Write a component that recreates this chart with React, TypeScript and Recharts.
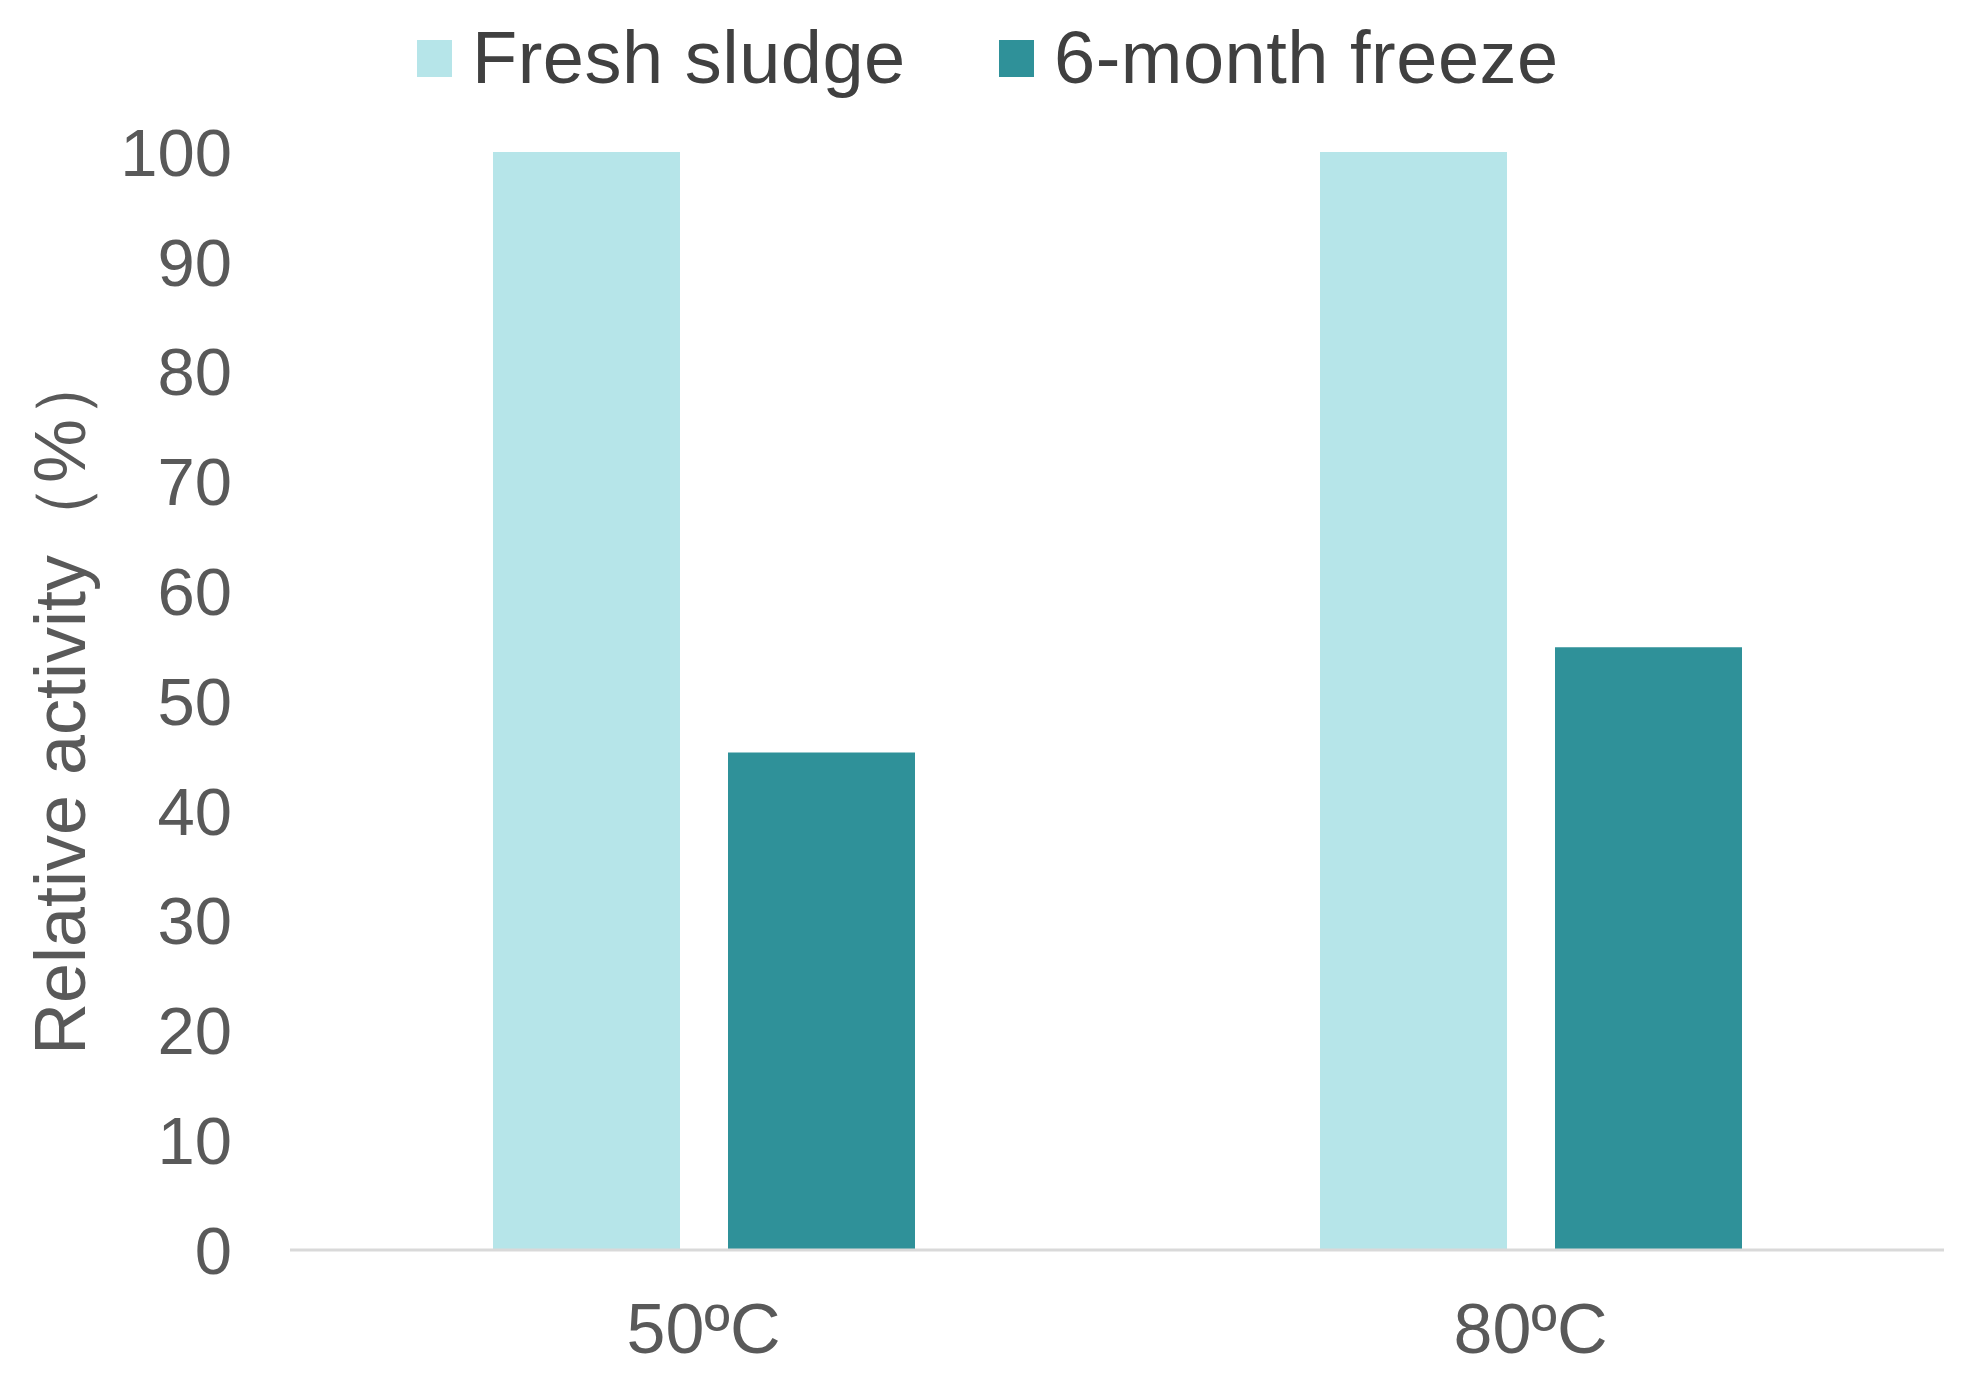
import { Bar, BarChart, Legend, XAxis, YAxis, Label } from "recharts"

const temperatures = ["50ºC", "80ºC"]
const freshSludge = [100, 100]
const sixMonthFreeze = [45.3, 54.9]
const yTicks = [0, 10, 20, 30, 40, 50, 60, 70, 80, 90, 100]
const seriesOrder = ["fresh", "frozen"]

const FRESH = "#B6E5E9"
const FROZEN = "#2F9199"
const FONT = "'Liberation Sans', Arial, sans-serif"

const chartData = temperatures.map((t, i) => ({
  temp: t,
  fresh: freshSludge[i],
  frozen: sixMonthFreeze[i],
}))

function LegendContent({ payload }: any) {
  // keep series order, recharts sorts legend items by name
  const items = [...(payload || [])].sort(
    (a: any, b: any) => seriesOrder.indexOf(a.dataKey) - seriesOrder.indexOf(b.dataKey)
  )
  return (
    <div style={{ display: "flex", alignItems: "center", paddingLeft: 417, fontFamily: FONT }}>
      {items.map((item: any, i: number) => (
        <div
          key={item.value}
          style={{ display: "flex", alignItems: "center", width: i === 0 ? 582 : "auto" }}
        >
          <div style={{ width: 35, height: 37, background: item.color, marginTop: 0 }} />
          <span style={{ marginLeft: 20, fontSize: 74, lineHeight: 1, color: "#404040", letterSpacing: 0.5 }}>
            {item.value}
          </span>
        </div>
      ))}
    </div>
  )
}

function YLabel({ viewBox }: any) {
  const cy = viewBox.y + viewBox.height / 2
  return (
    <text
      x={85}
      y={cy}
      transform={`rotate(-90, 85, ${cy})`}
      textAnchor="middle"
      fill="#595959"
      fontSize={72}
      fontFamily={FONT}
    >
      Relative activity（%）
    </text>
  )
}

export default function App() {
  return (
    <div style={{ position: "absolute", left: 0, top: 0, background: "#fff" }}>
      <BarChart
        width={1964}
        height={1375}
        data={chartData}
        margin={{ top: 152, right: 20, bottom: 95, left: 190 }}
        barGap={48}
        barCategoryGap={203}
        style={{ fontFamily: FONT }}
      >
        <XAxis
          dataKey="temp"
          axisLine={{ stroke: "#D9D9D9", strokeWidth: 3 }}
          tickLine={false}
          tickSize={0}
          tickMargin={53}
          tick={{ fill: "#595959", fontSize: 70 }}
        />
        <YAxis
          width={100}
          domain={[0, 100]}
          ticks={yTicks}
          interval={0}
          axisLine={false}
          tickLine={false}
          tickSize={0}
          tickMargin={58}
          tick={{ fill: "#595959", fontSize: 67 }}
        >
          <Label content={<YLabel />} />
        </YAxis>
        <Legend
          layout="horizontal"
          verticalAlign="middle"
          align="center"
          wrapperStyle={{ top: 21, left: 0, width: 1964 }}
          content={<LegendContent />}
        />
        <Bar dataKey="fresh" name="Fresh sludge" fill={FRESH} isAnimationActive={false} />
        <Bar dataKey="frozen" name="6-month freeze" fill={FROZEN} isAnimationActive={false} />
      </BarChart>
    </div>
  )
}
